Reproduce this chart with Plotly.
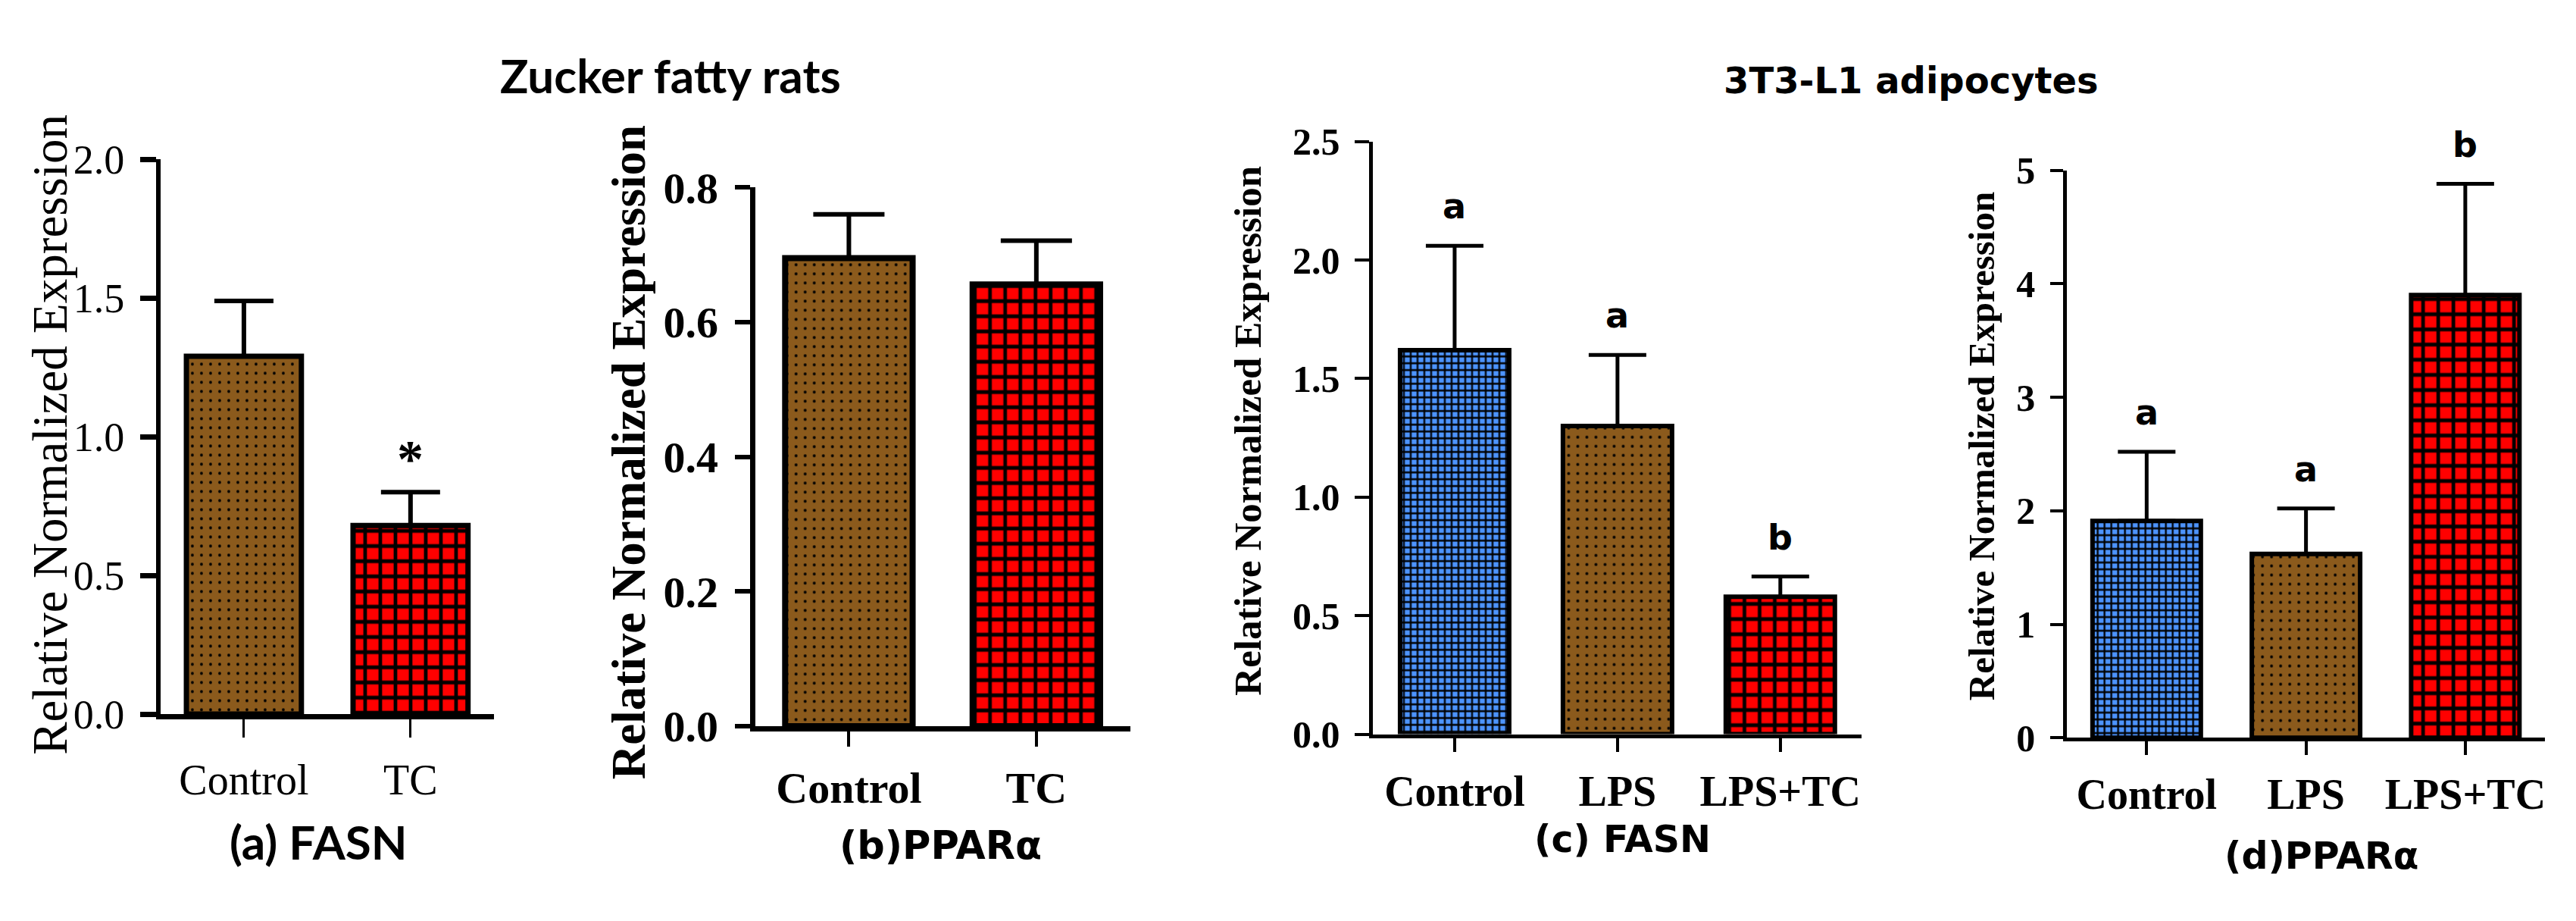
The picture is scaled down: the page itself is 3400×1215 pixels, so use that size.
import plotly.graph_objects as go

W, H = 3400, 1215

# данные
rat_groups = ["Control", "TC"]
rat_fasn = [1.29, 0.68]
rat_fasn_sd = [0.20, 0.12]
rat_ppara = [0.695, 0.656]
rat_ppara_sd = [0.065, 0.065]

cell_groups = ["Control", "LPS", "LPS+TC"]
cell_fasn = [1.62, 1.30, 0.58]
cell_fasn_sd = [0.44, 0.30, 0.085]
cell_ppara = [1.91, 1.62, 3.90]
cell_ppara_sd = [0.61, 0.40, 0.98]

cell_fasn_letters = ["a", "a", "b"]
cell_ppara_letters = ["a", "a", "b"]

BROWN = "#8B5A1C"
RED = "#FF0000"
BLUE = "#4D94FF"

SERIF = "Liberation Serif"
SANS_A = "Lato"
SANS_B = "DejaVu Sans"


def px(x):
    return x / W


def py(y):
    return 1 - y / H


def bar_style(kind):
    # kind: 'dots', 'check', 'fine'
    if kind == "dots":
        return BROWN, ".", 12, 0.08
    if kind == "check":
        return RED, "+", 20, 0.42
    return BLUE, "+", 9, 0.45


def add_panel(fig, n, cats, vals, sd, kinds, lw, cap, thick, bw):
    colors, shapes, sizes, sol = [], [], [], []
    for k in kinds:
        c, s, z, so = bar_style(k)
        colors.append(c)
        shapes.append(s)
        sizes.append(z)
        sol.append(so)
    # цвет маркера скалярный, иначе plotly игнорирует bgcolor/fgcolor узора
    fig.add_trace(go.Bar(
        x=cats, y=vals,
        xaxis="x" + n, yaxis="y" + n,
        width=bw,
        marker=dict(
            color="black",
            line=dict(color="black", width=lw),
            pattern=dict(shape=shapes, size=sizes, solidity=sol,
                         bgcolor=colors, fgcolor="black", fgopacity=1,
                         fillmode="replace"),
        ),
        error_y=dict(type="data", array=sd, arrayminus=[0] * len(sd),
                     symmetric=False, color="black", thickness=thick, width=cap),
        showlegend=False,
    ))


fig = go.Figure()

add_panel(fig, "", rat_groups, rat_fasn, rat_fasn_sd, ["dots", "check"], 7, 39, 6, 0.69)
add_panel(fig, "2", rat_groups, rat_ppara, rat_ppara_sd, ["dots", "check"], 8, 47, 6, 0.68)
add_panel(fig, "3", cell_groups, cell_fasn, cell_fasn_sd, ["fine", "dots", "check"], 6, 38, 5, 0.67)
add_panel(fig, "4", cell_groups, cell_ppara, cell_ppara_sd, ["fine", "dots", "check"], 6, 38, 5, 0.68)

# оси
def xaxis(x0, x1, anchor, lw, tlen, tw, font, n, standoff):
    return dict(domain=[px(x0), px(x1)], anchor=anchor, range=[-0.5, n - 0.5],
                showline=True, linecolor="black", linewidth=lw, ticks="outside",
                ticklen=tlen, tickwidth=tw, tickcolor="black", tickfont=font,
                showgrid=False, zeroline=False, fixedrange=True,
                ticklabelstandoff=standoff)


def yaxis(y0, y1, anchor, top, dtick, fmt, lw, tlen, tw, font, standoff):
    return dict(domain=[py(y0), py(y1)], anchor=anchor, range=[0, top], dtick=dtick,
                tickformat=fmt, showline=True, linecolor="black", linewidth=lw,
                ticks="outside", ticklen=tlen, tickwidth=tw, tickcolor="black",
                tickfont=font, showgrid=False, zeroline=False,
                ticklabelstandoff=standoff)


fa = dict(family=SERIF, size=56, color="black")
fb = dict(family=SERIF, size=58, color="black", weight="bold")
fc = dict(family=SERIF, size=56, color="black", weight="bold")
fc_y = dict(family=SERIF, size=50, color="black", weight="bold")

fig.update_layout(
    width=W, height=H,
    margin=dict(l=0, r=0, t=0, b=0),
    paper_bgcolor="white", plot_bgcolor="white",
    xaxis=xaxis(204, 644, "y", 7, 24, 3, fa, 2, 8),
    yaxis=yaxis(953, 180, "x", 2.0, 0.5, ".1f", 6, 21, 7, dict(fa, size=54), 10),
    xaxis2=xaxis(989, 1484, "y2", 7, 20, 4, fb, 2, 4),
    yaxis2=yaxis(970, 219, "x2", 0.8, 0.2, ".1f", 7, 20, 6, fb, 10),
    xaxis3=xaxis(1805, 2450, "y3", 5, 18, 4, fc, 3, 4),
    yaxis3=yaxis(981, 155, "x3", 2.5, 0.5, ".1f", 5, 19, 4, fc_y, 10),
    xaxis4=xaxis(2721, 3352, "y4", 5, 18, 4, fc, 3, 4),
    yaxis4=yaxis(986, 195, "x4", 5, 1, "d", 5, 17, 4, fc_y, 10),
)

ann = []


def paper_text(text, xc, yc, family, size, angle=0):
    return dict(text=text, x=px(xc), y=py(yc), xref="paper", yref="paper",
                xanchor="center", yanchor="middle", textangle=angle,
                showarrow=False, font=dict(family=family, size=size, color="black"))


# заголовки групп
ann.append(paper_text("<b>Zucker fatty rats</b>", 877, 62, SANS_A, 62))
ann.append(paper_text("<b>3T3-L1 adipocytes</b>", 2515, 70, SANS_B, 48))

# подписи панелей
ann.append(paper_text("<b>(a) FASN</b>", 413, 1130, SANS_A, 62))
ann.append(paper_text("<b>(b)PPARα</b>", 1234, 1136, SANS_B, 51))
ann.append(paper_text("<b>(c) FASN</b>", 2134, 1128, SANS_B, 49))
ann.append(paper_text("<b>(d)PPARα</b>", 3057, 1151, SANS_B, 49))

# подписи осей Y
ytitle = "Relative Normalized Expression"
for xc, yc, size, bold in [(58, 563, 65, False), (822, 588, 63, True),
                           (1640, 558, 51, True), (2609, 580, 49, True)]:
    ann.append(paper_text("<b>" + ytitle + "</b>" if bold else ytitle,
                          xc, yc, SERIF, size, -90))

# звёздочка над TC
ann.append(dict(text="<b>*</b>", x=rat_groups[1], y=rat_fasn[1] + rat_fasn_sd[1],
                xref="x", yref="y", yshift=44, xanchor="center", yanchor="middle",
                showarrow=False, font=dict(family=SERIF, size=70, color="black")))

# буквы значимости
for cats, vals, sd, letters, n in [(cell_groups, cell_fasn, cell_fasn_sd, cell_fasn_letters, "3"),
                                   (cell_groups, cell_ppara, cell_ppara_sd, cell_ppara_letters, "4")]:
    for c, v, s, l in zip(cats, vals, sd, letters):
        ann.append(dict(text="<b>" + l + "</b>", x=c, y=v + s, xref="x" + n, yref="y" + n,
                        yshift=52, xanchor="center", yanchor="middle", showarrow=False,
                        font=dict(family=SANS_B, size=46, color="black")))

fig.update_layout(annotations=ann)

fig.write_html("out.html")
